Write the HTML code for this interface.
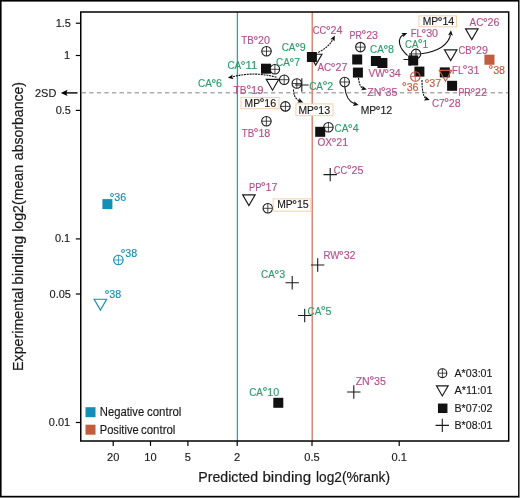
<!DOCTYPE html>
<html lang="en">
<head>
<meta charset="utf-8">
<title>Predicted vs experimental binding</title>
<style>
html,body{margin:0;padding:0;background:#fff;}
body{width:520px;height:498px;overflow:hidden;}
svg{display:block;font-family:"Liberation Sans",sans-serif;}
</style>
</head>
<body>
<svg width="520" height="498" viewBox="0 0 520 498">
<rect x="0" y="0" width="520" height="498" fill="#fff"/>
<rect x="0" y="0" width="520" height="498" fill="#8a8a8a"/>
<rect x="0" y="0" width="519.1" height="497.1" fill="#000"/>
<rect x="1.6" y="1.6" width="516.5" height="494.2" fill="#fff"/>
<path d="M81.65 92.7H508.7" stroke="#ababab" stroke-width="1.4" stroke-dasharray="4.3 3.275" fill="none"/>
<path d="M237.4 12.0V441.0" stroke="#28a2b2" stroke-width="1.3" fill="none"/>
<path d="M312.25 12.0V441.0" stroke="#d9887b" stroke-width="1.5" fill="none"/>
<rect x="80.75" y="12.0" width="427.95" height="429.0" fill="none" stroke="#000" stroke-width="1.5"/>
<path d="M75.8 23.2H80.75" stroke="#000" stroke-width="1.2" fill="none"/>
<text x="70.9" y="26.7" fill="#1a1a1a" stroke="#1a1a1a" stroke-width="0.15" font-size="11.8" text-anchor="end" textLength="15.26" lengthAdjust="spacingAndGlyphs">1.5</text>
<path d="M75.8 55.5H80.75" stroke="#000" stroke-width="1.2" fill="none"/>
<text x="70.2" y="59.0" fill="#1a1a1a" stroke="#1a1a1a" stroke-width="0.15" font-size="11.8" text-anchor="end" textLength="6.1" lengthAdjust="spacingAndGlyphs">1</text>
<path d="M75.8 110.4H80.75" stroke="#000" stroke-width="1.2" fill="none"/>
<text x="70.9" y="113.9" fill="#1a1a1a" stroke="#1a1a1a" stroke-width="0.15" font-size="11.8" text-anchor="end" textLength="15.26" lengthAdjust="spacingAndGlyphs">0.5</text>
<path d="M75.8 238.9H80.75" stroke="#000" stroke-width="1.2" fill="none"/>
<text x="70.2" y="242.4" fill="#1a1a1a" stroke="#1a1a1a" stroke-width="0.15" font-size="11.8" text-anchor="end" textLength="15.26" lengthAdjust="spacingAndGlyphs">0.1</text>
<path d="M75.8 294.0H80.75" stroke="#000" stroke-width="1.2" fill="none"/>
<text x="70.9" y="297.5" fill="#1a1a1a" stroke="#1a1a1a" stroke-width="0.15" font-size="11.8" text-anchor="end" textLength="21.36" lengthAdjust="spacingAndGlyphs">0.05</text>
<path d="M75.8 422.5H80.75" stroke="#000" stroke-width="1.2" fill="none"/>
<text x="70.2" y="426.0" fill="#1a1a1a" stroke="#1a1a1a" stroke-width="0.15" font-size="11.8" text-anchor="end" textLength="21.36" lengthAdjust="spacingAndGlyphs">0.01</text>
<path d="M113.2 441.0V445.9" stroke="#000" stroke-width="1.2" fill="none"/>
<text x="113.2" y="461.1" fill="#1a1a1a" stroke="#1a1a1a" stroke-width="0.15" font-size="11.8" text-anchor="middle" textLength="12.34" lengthAdjust="spacingAndGlyphs">20</text>
<path d="M150.5 441.0V445.9" stroke="#000" stroke-width="1.2" fill="none"/>
<text x="150.5" y="461.1" fill="#1a1a1a" stroke="#1a1a1a" stroke-width="0.15" font-size="11.8" text-anchor="middle" textLength="12.34" lengthAdjust="spacingAndGlyphs">10</text>
<path d="M187.9 441.0V445.9" stroke="#000" stroke-width="1.2" fill="none"/>
<text x="187.9" y="461.1" fill="#1a1a1a" stroke="#1a1a1a" stroke-width="0.15" font-size="11.8" text-anchor="middle" textLength="6.17" lengthAdjust="spacingAndGlyphs">5</text>
<path d="M237.2 441.0V445.9" stroke="#000" stroke-width="1.2" fill="none"/>
<text x="237.2" y="461.1" fill="#1a1a1a" stroke="#1a1a1a" stroke-width="0.15" font-size="11.8" text-anchor="middle" textLength="6.17" lengthAdjust="spacingAndGlyphs">2</text>
<path d="M312.0 441.0V445.9" stroke="#000" stroke-width="1.2" fill="none"/>
<text x="312.0" y="461.1" fill="#1a1a1a" stroke="#1a1a1a" stroke-width="0.15" font-size="11.8" text-anchor="middle" textLength="15.42" lengthAdjust="spacingAndGlyphs">0.5</text>
<path d="M399.2 441.0V445.9" stroke="#000" stroke-width="1.2" fill="none"/>
<text x="399.2" y="461.1" fill="#1a1a1a" stroke="#1a1a1a" stroke-width="0.15" font-size="11.8" text-anchor="middle" textLength="15.42" lengthAdjust="spacingAndGlyphs">0.1</text>
<text x="35.0" y="96.5" fill="#1a1a1a" stroke="#1a1a1a" stroke-width="0.15" font-size="11.8" text-anchor="start" textLength="21.3" lengthAdjust="spacingAndGlyphs">2SD</text>
<path d="M66 92.9H77.5" stroke="#000" stroke-width="1.4" fill="none"/>
<path d="M60.80 92.90L67.50 89.80L66.29 92.90L67.50 96.00Z" fill="#000"/>
<text y="482.2" fill="#1a1a1a" stroke="#1a1a1a" stroke-width="0.2" font-size="15.3" xml:space="preserve"><tspan x="198.30" textLength="59.80" lengthAdjust="spacingAndGlyphs">Predicted</tspan> <tspan x="262.40" textLength="48.80" lengthAdjust="spacingAndGlyphs">binding</tspan> <tspan x="316.00" textLength="74.00" lengthAdjust="spacingAndGlyphs">log2(%rank)</tspan></text>
<text y="0" transform="translate(23.4 0) rotate(-90)" fill="#1a1a1a" stroke="#1a1a1a" stroke-width="0.2" font-size="15.3" xml:space="preserve"><tspan x="-371.00" textLength="83.20" lengthAdjust="spacingAndGlyphs">Experimental</tspan> <tspan x="-284.80" textLength="48.90" lengthAdjust="spacingAndGlyphs">binding</tspan> <tspan x="-231.80" textLength="66.80" lengthAdjust="spacingAndGlyphs">log2(mean</tspan> <tspan x="-160.20" textLength="78.20" lengthAdjust="spacingAndGlyphs">absorbance)</tspan></text>
<rect x="102.4" y="199.1" width="10" height="10" fill="#128fb6"/>
<text y="201.2" fill="#128fb6" stroke="#128fb6" stroke-width="0.15" font-size="11.5"><tspan x="109.39" dy="0.6" font-size="12.6" stroke-width="0.22">°</tspan><tspan x="114.23" dy="-0.6" textLength="11.90" lengthAdjust="spacingAndGlyphs">36</tspan></text>
<g stroke="#128fb6" fill="none"><circle cx="118.4" cy="260" r="4.75" stroke-width="1.1"/><path d="M113.65 260H123.15M118.4 255.25V264.75" stroke-width="0.8"/></g>
<text y="257" fill="#128fb6" stroke="#128fb6" stroke-width="0.15" font-size="11.5"><tspan x="120.39" dy="0.6" font-size="12.6" stroke-width="0.22">°</tspan><tspan x="125.23" dy="-0.6" textLength="11.90" lengthAdjust="spacingAndGlyphs">38</tspan></text>
<path d="M94.15 299.20000000000005H106.65L100.4 310.0Z" stroke="#128fb6" stroke-width="1.15" fill="#fff" stroke-linejoin="miter"/>
<text y="298" fill="#128fb6" stroke="#128fb6" stroke-width="0.15" font-size="11.5"><tspan x="104.39" dy="0.6" font-size="12.6" stroke-width="0.22">°</tspan><tspan x="109.23" dy="-0.6" textLength="11.90" lengthAdjust="spacingAndGlyphs">38</tspan></text>
<text y="44" fill="#b4508c" stroke="#b4508c" stroke-width="0.15" font-size="11.5"><tspan x="241.30" textLength="12.47" lengthAdjust="spacingAndGlyphs">TB</tspan><tspan x="253.16" dy="0.6" font-size="12.6" stroke-width="0.22">°</tspan><tspan x="258.00" dy="-0.6" textLength="11.90" lengthAdjust="spacingAndGlyphs">20</tspan></text>
<g stroke="#1a1a1a" fill="none"><circle cx="266.5" cy="51.2" r="4.75" stroke-width="1.1"/><path d="M261.75 51.2H271.25M266.5 46.45V55.95" stroke-width="0.8"/></g>
<text y="51" fill="#2a9d6a" stroke="#2a9d6a" stroke-width="0.15" font-size="11.5"><tspan x="281.70" textLength="13.83" lengthAdjust="spacingAndGlyphs">CA</tspan><tspan x="294.92" dy="0.6" font-size="12.6" stroke-width="0.22">°</tspan><tspan x="299.76" dy="-0.6" textLength="5.95" lengthAdjust="spacingAndGlyphs">9</tspan></text>
<path d="M309.45 54.2H321.95L315.7 65.0Z" stroke="#1a1a1a" stroke-width="1.15" fill="#fff" stroke-linejoin="miter"/>
<rect x="306.9" y="52.0" width="10.0" height="10.0" fill="#111"/>
<text y="34" fill="#b4508c" stroke="#b4508c" stroke-width="0.15" font-size="11.5"><tspan x="312.80" textLength="13.46" lengthAdjust="spacingAndGlyphs">CC</tspan><tspan x="325.65" dy="0.6" font-size="12.6" stroke-width="0.22">°</tspan><tspan x="330.48" dy="-0.6" textLength="11.90" lengthAdjust="spacingAndGlyphs">24</tspan></text>
<path d="M318.2 52.4 Q329 47 332.6 39.8" stroke="#111" stroke-width="1.1" fill="none" stroke-dasharray="2 0.8"/>
<path d="M334.90 35.50L334.48 41.39L332.82 39.41L330.25 39.14Z" fill="#111"/>
<text y="69" fill="#2a9d6a" stroke="#2a9d6a" stroke-width="0.15" font-size="11.5"><tspan x="227.40" textLength="13.83" lengthAdjust="spacingAndGlyphs">CA</tspan><tspan x="240.62" dy="0.6" font-size="12.6" stroke-width="0.22">°</tspan><tspan x="245.46" dy="-0.6" textLength="11.90" lengthAdjust="spacingAndGlyphs">11</tspan></text>
<rect x="261.0" y="63.7" width="10.0" height="10.0" fill="#111"/>
<g stroke="#1a1a1a" fill="none"><circle cx="274.9" cy="69.3" r="4.75" stroke-width="1.1"/><path d="M270.15 69.3H279.65M274.9 64.55V74.05" stroke-width="0.8"/></g>
<text y="66" fill="#2a9d6a" stroke="#2a9d6a" stroke-width="0.15" font-size="11.5"><tspan x="276.10" textLength="13.83" lengthAdjust="spacingAndGlyphs">CA</tspan><tspan x="289.32" dy="0.6" font-size="12.6" stroke-width="0.22">°</tspan><tspan x="294.16" dy="-0.6" textLength="5.95" lengthAdjust="spacingAndGlyphs">7</tspan></text>
<path d="M276.5 77.3 Q254 71 232 77" stroke="#111" stroke-width="1.1" fill="none" stroke-dasharray="2 0.8"/>
<path d="M227.80 77.80L232.70 74.50L232.16 77.03L233.53 79.23Z" fill="#111"/>
<text y="87" fill="#2a9d6a" stroke="#2a9d6a" stroke-width="0.15" font-size="11.5"><tspan x="198.00" textLength="13.83" lengthAdjust="spacingAndGlyphs">CA</tspan><tspan x="211.22" dy="0.6" font-size="12.6" stroke-width="0.22">°</tspan><tspan x="216.06" dy="-0.6" textLength="5.95" lengthAdjust="spacingAndGlyphs">6</tspan></text>
<path d="M266.25 79.39999999999999H278.75L272.5 90.2Z" stroke="#1a1a1a" stroke-width="1.15" fill="#fff" stroke-linejoin="miter"/>
<g stroke="#1a1a1a" fill="none"><circle cx="284.2" cy="79.7" r="4.75" stroke-width="1.1"/><path d="M279.45 79.7H288.95M284.2 74.95V84.45" stroke-width="0.8"/></g>
<g stroke="#1a1a1a" fill="none"><circle cx="296.8" cy="83.5" r="4.75" stroke-width="1.1"/><path d="M292.05 83.5H301.55M296.8 78.75V88.25" stroke-width="0.8"/></g>
<path d="M295.0 85H308.6M301.8 78.2V91.8" stroke="#1a1a1a" stroke-width="1.1" fill="none"/>
<text y="89.8" fill="#2a9d6a" stroke="#2a9d6a" stroke-width="0.15" font-size="11.5"><tspan x="309.20" textLength="13.83" lengthAdjust="spacingAndGlyphs">CA</tspan><tspan x="322.42" dy="0.6" font-size="12.6" stroke-width="0.22">°</tspan><tspan x="327.26" dy="-0.6" textLength="5.95" lengthAdjust="spacingAndGlyphs">2</tspan></text>
<text y="93.8" fill="#b4508c" stroke="#b4508c" stroke-width="0.15" font-size="11.5"><tspan x="233.60" textLength="13.09" lengthAdjust="spacingAndGlyphs">TB</tspan><tspan x="246.18" dy="0.6" font-size="12.6" stroke-width="0.22">°</tspan><tspan x="251.11" dy="-0.6" textLength="12.49" lengthAdjust="spacingAndGlyphs">19</tspan></text>
<rect x="241" y="97.4" width="38" height="11.3" fill="#fff" stroke="#f6cfa8" stroke-width="1"/>
<text y="106.5" fill="#1a1a1a" stroke="#1a1a1a" stroke-width="0.15" font-size="11.5"><tspan x="244.60" textLength="15.50" lengthAdjust="spacingAndGlyphs">MP</tspan><tspan x="259.49" dy="0.6" font-size="12.6" stroke-width="0.22">°</tspan><tspan x="264.33" dy="-0.6" textLength="11.90" lengthAdjust="spacingAndGlyphs">16</tspan></text>
<g stroke="#1a1a1a" fill="none"><circle cx="285.4" cy="106.4" r="4.75" stroke-width="1.1"/><path d="M280.65 106.4H290.15M285.4 101.65V111.15" stroke-width="0.8"/></g>
<path d="M293.5 89.5 Q293.6 98.5 299.5 100.8" stroke="#111" stroke-width="1.1" fill="none" stroke-dasharray="2 0.8"/>
<path d="M303.20 102.50L297.29 102.50L299.15 100.70L299.24 98.11Z" fill="#111"/>
<rect x="295.9" y="103.9" width="37.1" height="11.8" fill="#fff" stroke="#f6cfa8" stroke-width="1"/>
<text y="113.9" fill="#1a1a1a" stroke="#1a1a1a" stroke-width="0.15" font-size="11.5"><tspan x="298.50" textLength="15.50" lengthAdjust="spacingAndGlyphs">MP</tspan><tspan x="313.39" dy="0.6" font-size="12.6" stroke-width="0.22">°</tspan><tspan x="318.23" dy="-0.6" textLength="11.90" lengthAdjust="spacingAndGlyphs">13</tspan></text>
<g stroke="#1a1a1a" fill="none"><circle cx="266.4" cy="121.2" r="4.75" stroke-width="1.1"/><path d="M261.65 121.2H271.15M266.4 116.45V125.95" stroke-width="0.8"/></g>
<text y="136.6" fill="#b4508c" stroke="#b4508c" stroke-width="0.15" font-size="11.5"><tspan x="241.70" textLength="12.47" lengthAdjust="spacingAndGlyphs">TB</tspan><tspan x="253.56" dy="0.6" font-size="12.6" stroke-width="0.22">°</tspan><tspan x="258.40" dy="-0.6" textLength="11.90" lengthAdjust="spacingAndGlyphs">18</tspan></text>
<text y="71" fill="#b4508c" stroke="#b4508c" stroke-width="0.15" font-size="11.5"><tspan x="317.40" textLength="13.83" lengthAdjust="spacingAndGlyphs">AC</tspan><tspan x="330.62" dy="0.6" font-size="12.6" stroke-width="0.22">°</tspan><tspan x="335.46" dy="-0.6" textLength="11.90" lengthAdjust="spacingAndGlyphs">27</tspan></text>
<g stroke="#1a1a1a" fill="none"><circle cx="344.7" cy="82.0" r="4.75" stroke-width="1.1"/><path d="M339.95 82.0H349.45M344.7 77.25V86.75" stroke-width="0.8"/></g>
<path d="M344.8 87 Q346 100.5 354.5 103.8" stroke="#111" stroke-width="1.1" fill="none"/>
<path d="M358.70 105.00L352.86 105.92L354.42 103.85L354.11 101.28Z" fill="#111"/>
<text y="114.3" fill="#1a1a1a" stroke="#1a1a1a" stroke-width="0.15" font-size="11.5"><tspan x="360.70" textLength="15.50" lengthAdjust="spacingAndGlyphs">MP</tspan><tspan x="375.59" dy="0.6" font-size="12.6" stroke-width="0.22">°</tspan><tspan x="380.43" dy="-0.6" textLength="11.90" lengthAdjust="spacingAndGlyphs">12</tspan></text>
<text y="38.6" fill="#b4508c" stroke="#b4508c" stroke-width="0.15" font-size="11.5"><tspan x="349.50" textLength="12.41" lengthAdjust="spacingAndGlyphs">PR</tspan><tspan x="361.31" dy="0.6" font-size="12.6" stroke-width="0.22">°</tspan><tspan x="366.14" dy="-0.6" textLength="11.90" lengthAdjust="spacingAndGlyphs">23</tspan></text>
<g stroke="#1a1a1a" fill="none"><circle cx="360.4" cy="47.1" r="4.75" stroke-width="1.1"/><path d="M355.65 47.1H365.15M360.4 42.35V51.85" stroke-width="0.8"/></g>
<text y="53.4" fill="#2a9d6a" stroke="#2a9d6a" stroke-width="0.15" font-size="11.5"><tspan x="370.00" textLength="13.83" lengthAdjust="spacingAndGlyphs">CA</tspan><tspan x="383.22" dy="0.6" font-size="12.6" stroke-width="0.22">°</tspan><tspan x="388.06" dy="-0.6" textLength="5.95" lengthAdjust="spacingAndGlyphs">8</tspan></text>
<rect x="352.2" y="54.5" width="10.0" height="10.0" fill="#111"/>
<rect x="352.9" y="67.6" width="10.0" height="10.0" fill="#111"/>
<rect x="370.9" y="56.0" width="10.0" height="10.0" fill="#111"/>
<rect x="377.4" y="58.0" width="10.0" height="10.0" fill="#111"/>
<text y="77.4" fill="#b4508c" stroke="#b4508c" stroke-width="0.15" font-size="11.5"><tspan x="368.40" textLength="16.29" lengthAdjust="spacingAndGlyphs">VW</tspan><tspan x="384.08" dy="0.6" font-size="12.6" stroke-width="0.22">°</tspan><tspan x="388.91" dy="-0.6" textLength="11.90" lengthAdjust="spacingAndGlyphs">34</tspan></text>
<path d="M358.5 78 Q359.5 87 363 88.5" stroke="#111" stroke-width="1.1" fill="none" stroke-dasharray="2 0.8"/>
<path d="M366.90 89.40L361.06 90.32L362.62 88.25L362.31 85.68Z" fill="#111"/>
<text y="95.6" fill="#b4508c" stroke="#b4508c" stroke-width="0.15" font-size="11.5"><tspan x="367.30" textLength="14.05" lengthAdjust="spacingAndGlyphs">ZN</tspan><tspan x="380.74" dy="0.6" font-size="12.6" stroke-width="0.22">°</tspan><tspan x="385.58" dy="-0.6" textLength="11.90" lengthAdjust="spacingAndGlyphs">35</tspan></text>
<text y="36.9" fill="#b4508c" stroke="#b4508c" stroke-width="0.15" font-size="11.5"><tspan x="410.80" textLength="11.12" lengthAdjust="spacingAndGlyphs">FL</tspan><tspan x="421.32" dy="0.6" font-size="12.6" stroke-width="0.22">°</tspan><tspan x="426.15" dy="-0.6" textLength="11.90" lengthAdjust="spacingAndGlyphs">30</tspan></text>
<text y="47.8" fill="#2a9d6a" stroke="#2a9d6a" stroke-width="0.15" font-size="11.5"><tspan x="405.00" textLength="13.36" lengthAdjust="spacingAndGlyphs">CA</tspan><tspan x="417.68" dy="0.6" font-size="12.6" stroke-width="0.22">°</tspan><tspan x="422.45" dy="-0.6" textLength="5.75" lengthAdjust="spacingAndGlyphs">1</tspan></text>
<path d="M407.5 55.5 C399 48 396.5 39 403.3 34.8" stroke="#111" stroke-width="1.1" fill="none"/>
<path d="M407.30 33.10L403.19 37.35L403.19 34.76L401.39 32.90Z" fill="#111"/>
<path d="M421.2 53.8 Q447 50 450.5 34.8" stroke="#111" stroke-width="1.1" fill="none"/>
<path d="M451.00 30.20L452.82 35.82L450.54 34.60L448.05 35.32Z" fill="#111"/>
<rect x="418.9" y="15.9" width="37.6" height="10.9" fill="#fff" stroke="#f6cfa8" stroke-width="1"/>
<text y="25" fill="#1a1a1a" stroke="#1a1a1a" stroke-width="0.15" font-size="11.5"><tspan x="422.70" textLength="15.50" lengthAdjust="spacingAndGlyphs">MP</tspan><tspan x="437.59" dy="0.6" font-size="12.6" stroke-width="0.22">°</tspan><tspan x="442.43" dy="-0.6" textLength="11.90" lengthAdjust="spacingAndGlyphs">14</tspan></text>
<path d="M403.5 59.5H416.5M410 53.0V66.0" stroke="#1a1a1a" stroke-width="1.1" fill="none"/>
<rect x="408.2" y="55.5" width="10.0" height="10.0" fill="#111"/>
<g stroke="#1a1a1a" fill="none"><circle cx="416.0" cy="53.9" r="4.75" stroke-width="1.1"/><path d="M411.25 53.9H420.75M416.0 49.15V58.65" stroke-width="0.8"/></g>
<text y="26" fill="#b4508c" stroke="#b4508c" stroke-width="0.15" font-size="11.5"><tspan x="469.50" textLength="13.83" lengthAdjust="spacingAndGlyphs">AC</tspan><tspan x="482.72" dy="0.6" font-size="12.6" stroke-width="0.22">°</tspan><tspan x="487.56" dy="-0.6" textLength="11.90" lengthAdjust="spacingAndGlyphs">26</tspan></text>
<path d="M465.55 28.800000000000004H478.05L471.8 39.6Z" stroke="#1a1a1a" stroke-width="1.15" fill="#fff" stroke-linejoin="miter"/>
<text y="54" fill="#b4508c" stroke="#b4508c" stroke-width="0.15" font-size="11.5"><tspan x="458.50" textLength="13.22" lengthAdjust="spacingAndGlyphs">CB</tspan><tspan x="471.12" dy="0.6" font-size="12.6" stroke-width="0.22">°</tspan><tspan x="475.95" dy="-0.6" textLength="11.90" lengthAdjust="spacingAndGlyphs">29</tspan></text>
<path d="M444.45 49.800000000000004H456.95L450.7 60.6Z" stroke="#1a1a1a" stroke-width="1.15" fill="#fff" stroke-linejoin="miter"/>
<rect x="414.4" y="66.6" width="10.0" height="10.0" fill="#111"/>
<g stroke="#c25c3d" fill="none"><circle cx="415.3" cy="76.5" r="4.75" stroke-width="1.1"/><path d="M410.55 76.5H420.05M415.3 71.75V81.25" stroke-width="0.8"/></g>
<text y="90.7" fill="#c25c3d" stroke="#c25c3d" stroke-width="0.15" font-size="11.5"><tspan x="401.79" dy="0.6" font-size="12.6" stroke-width="0.22">°</tspan><tspan x="406.63" dy="-0.6" textLength="11.90" lengthAdjust="spacingAndGlyphs">36</tspan></text>
<path d="M422 80 Q422 96 426 98.6" stroke="#111" stroke-width="1.1" fill="none" stroke-dasharray="2 0.8"/>
<path d="M429.80 99.90L423.92 100.51L425.59 98.53L425.41 95.95Z" fill="#111"/>
<text y="106.8" fill="#b4508c" stroke="#b4508c" stroke-width="0.15" font-size="11.5"><tspan x="431.90" textLength="12.68" lengthAdjust="spacingAndGlyphs">C7</tspan><tspan x="443.97" dy="0.6" font-size="12.6" stroke-width="0.22">°</tspan><tspan x="448.81" dy="-0.6" textLength="11.90" lengthAdjust="spacingAndGlyphs">28</tspan></text>
<text y="87.3" fill="#c25c3d" stroke="#c25c3d" stroke-width="0.15" font-size="11.5"><tspan x="424.39" dy="0.6" font-size="12.6" stroke-width="0.22">°</tspan><tspan x="429.23" dy="-0.6" textLength="11.90" lengthAdjust="spacingAndGlyphs">37</tspan></text>
<rect x="439.8" y="67.4" width="10.0" height="10.0" fill="#111"/>
<path d="M439.25 70.39999999999999H451.75L445.5 81.2Z" stroke="#c25c3d" stroke-width="1.15" fill="none" stroke-linejoin="miter"/>
<text y="73.5" fill="#b4508c" stroke="#b4508c" stroke-width="0.15" font-size="11.5"><tspan x="452.10" textLength="11.12" lengthAdjust="spacingAndGlyphs">FL</tspan><tspan x="462.62" dy="0.6" font-size="12.6" stroke-width="0.22">°</tspan><tspan x="467.45" dy="-0.6" textLength="11.90" lengthAdjust="spacingAndGlyphs">31</tspan></text>
<rect x="447.1" y="80.8" width="10.0" height="10.0" fill="#111"/>
<text y="96" fill="#b4508c" stroke="#b4508c" stroke-width="0.15" font-size="11.5"><tspan x="458.40" textLength="12.41" lengthAdjust="spacingAndGlyphs">PR</tspan><tspan x="470.21" dy="0.6" font-size="12.6" stroke-width="0.22">°</tspan><tspan x="475.04" dy="-0.6" textLength="11.90" lengthAdjust="spacingAndGlyphs">22</tspan></text>
<rect x="484.4" y="54.650000000000006" width="10.1" height="10.1" fill="#c25c3d"/>
<text y="73.8" fill="#c25c3d" stroke="#c25c3d" stroke-width="0.15" font-size="11.5"><tspan x="488.29" dy="0.6" font-size="12.6" stroke-width="0.22">°</tspan><tspan x="493.13" dy="-0.6" textLength="11.90" lengthAdjust="spacingAndGlyphs">38</tspan></text>
<g stroke="#1a1a1a" fill="none"><circle cx="328.4" cy="127.3" r="4.75" stroke-width="1.1"/><path d="M323.65 127.3H333.15M328.4 122.55V132.05" stroke-width="0.8"/></g>
<rect x="315.2" y="126.80000000000001" width="10.0" height="10.0" fill="#111"/>
<text y="131.9" fill="#2a9d6a" stroke="#2a9d6a" stroke-width="0.15" font-size="11.5"><tspan x="334.60" textLength="13.83" lengthAdjust="spacingAndGlyphs">CA</tspan><tspan x="347.82" dy="0.6" font-size="12.6" stroke-width="0.22">°</tspan><tspan x="352.66" dy="-0.6" textLength="5.95" lengthAdjust="spacingAndGlyphs">4</tspan></text>
<text y="146.3" fill="#b4508c" stroke="#b4508c" stroke-width="0.15" font-size="11.5"><tspan x="317.40" textLength="14.62" lengthAdjust="spacingAndGlyphs">OX</tspan><tspan x="331.41" dy="0.6" font-size="12.6" stroke-width="0.22">°</tspan><tspan x="336.24" dy="-0.6" textLength="11.90" lengthAdjust="spacingAndGlyphs">21</tspan></text>
<path d="M323.5 174.6H336.9M330.2 167.9V181.29999999999998" stroke="#1a1a1a" stroke-width="1.1" fill="none"/>
<text y="173.8" fill="#b4508c" stroke="#b4508c" stroke-width="0.15" font-size="11.5"><tspan x="333.80" textLength="13.46" lengthAdjust="spacingAndGlyphs">CC</tspan><tspan x="346.65" dy="0.6" font-size="12.6" stroke-width="0.22">°</tspan><tspan x="351.48" dy="-0.6" textLength="11.90" lengthAdjust="spacingAndGlyphs">25</tspan></text>
<path d="M242.65 194.79999999999998H255.15L248.9 205.6Z" stroke="#1a1a1a" stroke-width="1.15" fill="#fff" stroke-linejoin="miter"/>
<text y="190.5" fill="#b4508c" stroke="#b4508c" stroke-width="0.15" font-size="11.5"><tspan x="249.00" textLength="12.34" lengthAdjust="spacingAndGlyphs">PP</tspan><tspan x="260.74" dy="0.6" font-size="12.6" stroke-width="0.22">°</tspan><tspan x="265.57" dy="-0.6" textLength="11.90" lengthAdjust="spacingAndGlyphs">17</tspan></text>
<g stroke="#1a1a1a" fill="none"><circle cx="267.8" cy="208.3" r="4.75" stroke-width="1.1"/><path d="M263.05 208.3H272.55M267.8 203.55V213.05" stroke-width="0.8"/></g>
<rect x="273.2" y="198.9" width="37.7" height="12.3" fill="#fff" stroke="#f6cfa8" stroke-width="1"/>
<text y="208.0" fill="#1a1a1a" stroke="#1a1a1a" stroke-width="0.15" font-size="11.5"><tspan x="277.20" textLength="15.50" lengthAdjust="spacingAndGlyphs">MP</tspan><tspan x="292.09" dy="0.6" font-size="12.6" stroke-width="0.22">°</tspan><tspan x="296.93" dy="-0.6" textLength="11.90" lengthAdjust="spacingAndGlyphs">15</tspan></text>
<text y="258.9" fill="#b4508c" stroke="#b4508c" stroke-width="0.15" font-size="11.5"><tspan x="323.40" textLength="16.05" lengthAdjust="spacingAndGlyphs">RW</tspan><tspan x="338.85" dy="0.6" font-size="12.6" stroke-width="0.22">°</tspan><tspan x="343.68" dy="-0.6" textLength="11.90" lengthAdjust="spacingAndGlyphs">32</tspan></text>
<path d="M311.0 265H324.4M317.7 258.3V271.7" stroke="#1a1a1a" stroke-width="1.1" fill="none"/>
<text y="278.1" fill="#2a9d6a" stroke="#2a9d6a" stroke-width="0.15" font-size="11.5"><tspan x="261.10" textLength="13.83" lengthAdjust="spacingAndGlyphs">CA</tspan><tspan x="274.32" dy="0.6" font-size="12.6" stroke-width="0.22">°</tspan><tspan x="279.16" dy="-0.6" textLength="5.95" lengthAdjust="spacingAndGlyphs">3</tspan></text>
<path d="M285.5 282.8H298.9M292.2 276.1V289.5" stroke="#1a1a1a" stroke-width="1.1" fill="none"/>
<path d="M298.0 315.5H311.4M304.7 308.8V322.2" stroke="#1a1a1a" stroke-width="1.1" fill="none"/>
<text y="314.6" fill="#2a9d6a" stroke="#2a9d6a" stroke-width="0.15" font-size="11.5"><tspan x="307.50" textLength="13.83" lengthAdjust="spacingAndGlyphs">CA</tspan><tspan x="320.72" dy="0.6" font-size="12.6" stroke-width="0.22">°</tspan><tspan x="325.56" dy="-0.6" textLength="5.95" lengthAdjust="spacingAndGlyphs">5</tspan></text>
<text y="395.8" fill="#2a9d6a" stroke="#2a9d6a" stroke-width="0.15" font-size="11.5"><tspan x="249.20" textLength="13.83" lengthAdjust="spacingAndGlyphs">CA</tspan><tspan x="262.42" dy="0.6" font-size="12.6" stroke-width="0.22">°</tspan><tspan x="267.26" dy="-0.6" textLength="11.90" lengthAdjust="spacingAndGlyphs">10</tspan></text>
<rect x="273.3" y="397.8" width="10.0" height="10.0" fill="#111"/>
<text y="384.5" fill="#b4508c" stroke="#b4508c" stroke-width="0.15" font-size="11.5"><tspan x="355.70" textLength="14.05" lengthAdjust="spacingAndGlyphs">ZN</tspan><tspan x="369.14" dy="0.6" font-size="12.6" stroke-width="0.22">°</tspan><tspan x="373.98" dy="-0.6" textLength="11.90" lengthAdjust="spacingAndGlyphs">35</tspan></text>
<path d="M347.1 392H360.5M353.8 385.3V398.7" stroke="#1a1a1a" stroke-width="1.1" fill="none"/>
<rect x="85.5" y="407.2" width="10" height="10" fill="#128fb6"/>
<text y="416.4" fill="#1a1a1a" stroke="#1a1a1a" stroke-width="0.15" font-size="12.0" xml:space="preserve"><tspan x="99.80" textLength="44.40" lengthAdjust="spacingAndGlyphs">Negative</tspan> <tspan x="147.00" textLength="34.40" lengthAdjust="spacingAndGlyphs">control</tspan></text>
<rect x="85.5" y="424.7" width="10" height="10" fill="#c25c3d"/>
<text y="433.8" fill="#1a1a1a" stroke="#1a1a1a" stroke-width="0.15" font-size="12.0" xml:space="preserve"><tspan x="99.80" textLength="38.80" lengthAdjust="spacingAndGlyphs">Positive</tspan> <tspan x="141.00" textLength="34.40" lengthAdjust="spacingAndGlyphs">control</tspan></text>
<g stroke="#1a1a1a" fill="none"><circle cx="442.4" cy="373.2" r="4.4" stroke-width="1.1"/><path d="M438.0 373.2H446.79999999999995M442.4 368.8V377.59999999999997" stroke-width="0.8"/></g>
<text x="454.5" y="376.9" fill="#1a1a1a" stroke="#1a1a1a" stroke-width="0.15" font-size="11.6" text-anchor="start" textLength="38" lengthAdjust="spacingAndGlyphs">A*03:01</text>
<path d="M436.425 385.82399999999996H448.175L442.3 395.976Z" stroke="#1a1a1a" stroke-width="1.15" fill="#fff" stroke-linejoin="miter"/>
<text x="454.5" y="394.1" fill="#1a1a1a" stroke="#1a1a1a" stroke-width="0.15" font-size="11.6" text-anchor="start" textLength="38" lengthAdjust="spacingAndGlyphs">A*11:01</text>
<rect x="437.95" y="403.55" width="9.5" height="9.5" fill="#111"/>
<text x="454.5" y="411.9" fill="#1a1a1a" stroke="#1a1a1a" stroke-width="0.15" font-size="11.6" text-anchor="start" textLength="38" lengthAdjust="spacingAndGlyphs">B*07:02</text>
<path d="M435.6 425.4H449.0M442.3 418.7V432.09999999999997" stroke="#1a1a1a" stroke-width="1.1" fill="none"/>
<text x="454.5" y="429.2" fill="#1a1a1a" stroke="#1a1a1a" stroke-width="0.15" font-size="11.6" text-anchor="start" textLength="38" lengthAdjust="spacingAndGlyphs">B*08:01</text>
</svg>
</body>
</html>
